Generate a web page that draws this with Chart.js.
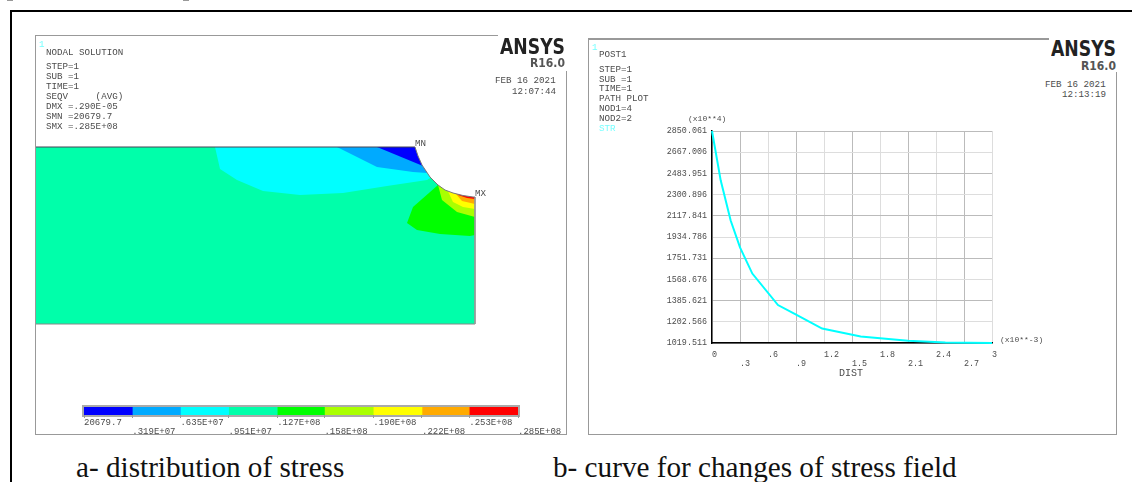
<!DOCTYPE html>
<html>
<head>
<meta charset="utf-8">
<title>ANSYS stress results</title>
<script src="https://cdn.jsdelivr.net/npm/chart.js@4"></script>
<style>
  html, body { margin: 0; padding: 0; background: #fff; }
  #page { position: relative; width: 1132px; height: 482px; overflow: hidden; }
  #page div, #page canvas { position: absolute; }
  .t { font: 9.2px/10px "Liberation Mono", monospace; color: #4c4c4c; white-space: pre; }
  .s { font-size: 8px; }
  .cyan { color: #7ff; }
  .logo { font: bold 22px/22px "DejaVu Sans Condensed", "DejaVu Sans", sans-serif; color: #222; transform: scaleX(.87); transform-origin: left top; }
  .rel { font: bold 12px/12px "DejaVu Sans Condensed", "DejaVu Sans", sans-serif; color: #555; }
  .cap { font: 29.2px/30px "Liberation Serif", serif; color: #111; white-space: pre; }
  .k { background: #000; }
  .g { background: #999; }
</style>
</head>
<body>
<div id="page">
  <!-- outer frame and scraps of the cropped line above -->
  <div class="k" style="left:10px;top:10px;width:1122px;height:2px"></div>
  <div class="k" style="left:10px;top:10px;width:2px;height:472px"></div>
  <div class="g" style="left:7px;top:0;width:6px;height:1px"></div>
  <div class="g" style="left:183px;top:0;width:6px;height:1px"></div>

  <!-- left panel frame -->
  <div class="g" style="left:35px;top:35px;width:463px;height:1px"></div>
  <div class="g" style="left:35px;top:35px;width:1px;height:400px"></div>
  <div class="g" style="left:35px;top:434px;width:532px;height:1px"></div>
  <div class="g" style="left:566px;top:71px;width:1px;height:364px"></div>

  <!-- right panel frame -->
  <div class="g" style="left:588px;top:38px;width:461px;height:2px"></div>
  <div class="g" style="left:588px;top:38px;width:1px;height:397px"></div>
  <div class="g" style="left:588px;top:434px;width:529px;height:1px"></div>
  <div class="g" style="left:1116px;top:72px;width:1px;height:363px"></div>

  <div class="g" style="left:82px;top:405px;width:438px;height:12px;background:#aaa"></div>

  <canvas id="modelChart" width="530" height="398" style="left:36px;top:36px"></canvas>
  <canvas id="barChart" width="500" height="34" style="left:70px;top:400px"></canvas>
  <canvas id="pathChart" width="380" height="270" style="left:640px;top:120px"></canvas>

  <!-- left panel text -->
  <div class="t cyan" style="left:39px;top:40px">1</div>
  <div class="t" style="left:46px;top:48px">NODAL SOLUTION</div>
  <div class="t" style="left:46px;top:62px">STEP=1</div>
  <div class="t" style="left:46px;top:72px">SUB =1</div>
  <div class="t" style="left:46px;top:82px">TIME=1</div>
  <div class="t" style="left:46px;top:92px">SEQV     (AVG)</div>
  <div class="t" style="left:46px;top:102px">DMX =.290E-05</div>
  <div class="t" style="left:46px;top:112px">SMN =20679.7</div>
  <div class="t" style="left:46px;top:122px">SMX =.285E+08</div>
  <div class="logo" style="left:500px;top:36px">ANSYS</div>
  <div class="rel" style="left:530px;top:57px">R16.0</div>
  <div class="t" style="left:495px;top:76px">FEB 16 2021</div>
  <div class="t" style="left:512px;top:87px">12:07:44</div>
  <div class="t" style="left:415px;top:139px">MN</div>
  <div class="t" style="left:475px;top:189px">MX</div>

  <!-- right panel text -->
  <div class="t cyan" style="left:592px;top:43px">1</div>
  <div class="t" style="left:599px;top:50px">POST1</div>
  <div class="t" style="left:599px;top:65px">STEP=1</div>
  <div class="t" style="left:599px;top:75px">SUB =1</div>
  <div class="t" style="left:599px;top:84px">TIME=1</div>
  <div class="t" style="left:599px;top:94px">PATH PLOT</div>
  <div class="t" style="left:599px;top:104px">NOD1=4</div>
  <div class="t" style="left:599px;top:114px">NOD2=2</div>
  <div class="t cyan" style="left:599px;top:124px">STR</div>
  <div class="logo" style="left:1051px;top:38px">ANSYS</div>
  <div class="rel" style="left:1081px;top:60px">R16.0</div>
  <div class="t" style="left:1045px;top:80px">FEB 16 2021</div>
  <div class="t" style="left:1062px;top:90px">12:13:19</div>
  <div class="t s" style="left:688px;top:114px">(x10**4)</div>
  <div class="t s" style="left:1000px;top:335px">(x10**-3)</div>
  <div class="t" style="left:839px;top:369px;font-size:10px">DIST</div>

  <div class="cap" style="left:76px;top:452px">a- distribution of stress</div>
  <div class="cap" style="left:553px;top:452px">b- curve for changes of stress field</div>
</div>

<script>
/* ============================
   PATH PLOT DATA
   ============================ */

const pathDist = [0, 0.093, 0.2, 0.3, 0.432, 0.707, 0.896, 1.18, 1.593, 2.1, 2.5, 3];
const pathStress = [2850.061, 2424, 2077, 1845, 1619, 1347, 1266, 1144, 1075, 1040, 1024, 1020];

const pathXTicks = [0, 0.3, 0.6, 0.9, 1.2, 1.5, 1.8, 2.1, 2.4, 2.7, 3];
const pathXLabels = ["0", ".3", ".6", ".9", "1.2", "1.5", "1.8", "2.1", "2.4", "2.7", "3"];
const pathYTicks = [1019.511, 1202.566, 1385.621, 1568.676, 1751.731, 1934.786, 2117.841, 2300.896, 2483.951, 2667.006, 2850.061];

/* ============================
   CONTOUR BAND DATA
   ============================ */

const bandColors = ["#0000ff", "#00aaff", "#00ffff", "#00ffaa", "#00ff00", "#aaff00", "#ffff00", "#ffaa00", "#ff0000"];
const bandEdges = [20679.7, 3190000, 6350000, 9510000, 12700000, 15800000, 19000000, 22200000, 25300000, 28500000];
const bandLabels = ["20679.7", ".319E+07", ".635E+07", ".951E+07", ".127E+08", ".158E+08", ".190E+08", ".222E+08", ".253E+08", ".285E+08"];

// model outlines, measured from the top left corner of the plate
const plateShape = [[0, 0], [440, 0], [440, 177], [0, 177]];
const cyanShape = [[180, 0], [185, 22], [202, 33], [228, 44], [265, 48], [308, 46], [352, 39], [392, 33], [400, 28], [400, 0]];
const lightBlueShape = [[302, 0], [342, 20], [378, 25], [392, 26], [400, 0]];
const blueShape = [[342, 0], [388, 19], [400, 0]];
const greenShape = [[403, 38], [378, 60], [372, 76], [382, 83], [405, 87], [435, 89], [440, 88], [440, 45], [420, 38]];
const limeShape = [[403, 38], [407, 53], [422, 65], [440, 70], [440, 45], [415, 36]];
const yellowShape = [[410, 38], [418, 55], [428, 60], [440, 62], [440, 45]];
const orangeShape = [[413, 38], [427, 54], [440, 57], [440, 45]];
const redShape = [[420, 42], [423, 48], [432, 51], [440, 52], [440, 45]];
const holeShape = [[380, 0], [383, 9], [387, 18], [391, 24], [395, 30], [399, 34], [403, 38], [410, 43], [418, 46], [428, 48.5], [438, 50], [440, 50], [440, -2], [380, -2]];
const holeEdge = [[380, 0], [383, 9], [387, 18], [391, 24], [395, 30], [399, 34], [403, 38], [410, 43], [418, 46], [428, 48.5], [438, 50], [440, 50]];
const topEdge = [[0, 0], [380, 0]];
const rightEdge = [[440, 50], [440, 177]];
const bottomEdge = [[0, 177], [440, 177]];

/* ============================
   MODEL CONTOUR CHART
   ============================ */

const toPoints = shape => shape.map(p => ({ x: p[0], y: p[1] }));

function shapeSet(shape, color, order) {
  return {
    data: toPoints(shape),
    backgroundColor: color,
    borderWidth: 0,
    pointRadius: 0,
    fill: "shape",
    order: order
  };
}

function edgeSet(shape, color) {
  return {
    data: toPoints(shape),
    borderColor: color,
    borderWidth: 1,
    pointRadius: 0,
    fill: false,
    order: 0
  };
}

new Chart(document.getElementById("modelChart"), {
  type: "line",
  data: {
    datasets: [
      shapeSet(plateShape, bandColors[3], 10),
      shapeSet(cyanShape, bandColors[2], 9),
      shapeSet(lightBlueShape, bandColors[1], 8),
      shapeSet(blueShape, bandColors[0], 7),
      shapeSet(greenShape, bandColors[4], 6),
      shapeSet(limeShape, bandColors[5], 5),
      shapeSet(yellowShape, bandColors[6], 4),
      shapeSet(orangeShape, bandColors[7], 3),
      shapeSet(redShape, bandColors[8], 2),
      shapeSet(holeShape, "#ffffff", 1),
      edgeSet(holeEdge, "#777"),
      edgeSet(topEdge, "#445"),
      edgeSet(rightEdge, "#999"),
      edgeSet(bottomEdge, "#888")
    ]
  },
  options: {
    responsive: false,
    animation: false,
    plugins: { legend: { display: false }, tooltip: { enabled: false } },
    scales: {
      x: { type: "linear", display: false, min: 1, max: 531 },
      y: { type: "linear", display: false, reverse: true, min: -111, max: 287 }
    }
  }
});

/* ============================
   COLOUR BAR
   ============================ */

new Chart(document.getElementById("barChart"), {
  type: "bar",
  data: {
    labels: ["SEQV"],
    datasets: bandColors.map((color, i) => ({
      data: [[bandEdges[i], bandEdges[i + 1]]],
      backgroundColor: color,
      barPercentage: 1,
      categoryPercentage: 1,
      grouped: false
    }))
  },
  options: {
    indexAxis: "y",
    responsive: false,
    animation: false,
    layout: { padding: { left: 14, right: 52, top: 7, bottom: 0 } },
    plugins: { legend: { display: false }, tooltip: { enabled: false } },
    scales: {
      y: { display: false },
      x: {
        type: "linear",
        min: bandEdges[0],
        max: bandEdges[9],
        afterBuildTicks: scale => { scale.ticks = bandEdges.map(v => ({ value: v })); },
        afterFit: scale => { scale.height = 19; },
        border: { display: false },
        grid: { drawOnChartArea: false, color: "#999", tickLength: 3 },
        ticks: {
          autoSkip: false,
          maxRotation: 0,
          align: "start",
          padding: 0,
          color: "#4c4c4c",
          font: { family: "Liberation Mono", size: 9, lineHeight: 1 },
          callback: (value, i) => i % 2 ? ["", bandLabels[i]] : bandLabels[i]
        }
      }
    }
  }
});

/* ============================
   PATH PLOT
   ============================ */

const tickFont = { family: "Liberation Mono", size: 8.4, lineHeight: 1.1 };

new Chart(document.getElementById("pathChart"), {
  type: "line",
  data: {
    datasets: [{
      label: "STR",
      data: pathDist.map((d, i) => ({ x: d, y: pathStress[i] })),
      borderColor: "#00ffff",
      borderWidth: 2,
      pointRadius: 0,
      tension: 0,
      clip: false
    }]
  },
  options: {
    responsive: false,
    animation: false,
    layout: { padding: { left: 0, right: 28, top: 11, bottom: 0 } },
    plugins: { legend: { display: false }, tooltip: { enabled: false } },
    scales: {
      x: {
        type: "linear",
        min: 0,
        max: 3,
        afterBuildTicks: scale => { scale.ticks = pathXTicks.map(v => ({ value: v })); },
        afterFit: scale => { scale.height = 47; },
        border: { color: "#000", width: 1.5 },
        grid: {
          drawTicks: false,
          color: ctx => ctx.index % 2 ? "#bbb" : "#ddd"
        },
        ticks: {
          autoSkip: false,
          maxRotation: 0,
          align: "start",
          padding: 7,
          color: "#4c4c4c",
          font: tickFont,
          callback: (value, i) => i % 2 ? ["", pathXLabels[i]] : pathXLabels[i]
        }
      },
      y: {
        type: "linear",
        min: pathYTicks[0],
        max: pathYTicks[10],
        afterBuildTicks: scale => { scale.ticks = pathYTicks.map(v => ({ value: v })); },
        afterFit: scale => { scale.width = 72; },
        border: { color: "#000", width: 1.5 },
        grid: {
          drawTicks: false,
          color: ctx => ctx.index % 2 ? "#ddd" : "#bbb"
        },
        ticks: {
          autoSkip: false,
          padding: 5,
          color: "#4c4c4c",
          font: tickFont,
          callback: value => value.toFixed(3)
        }
      }
    }
  }
});
</script>
</body>
</html>
